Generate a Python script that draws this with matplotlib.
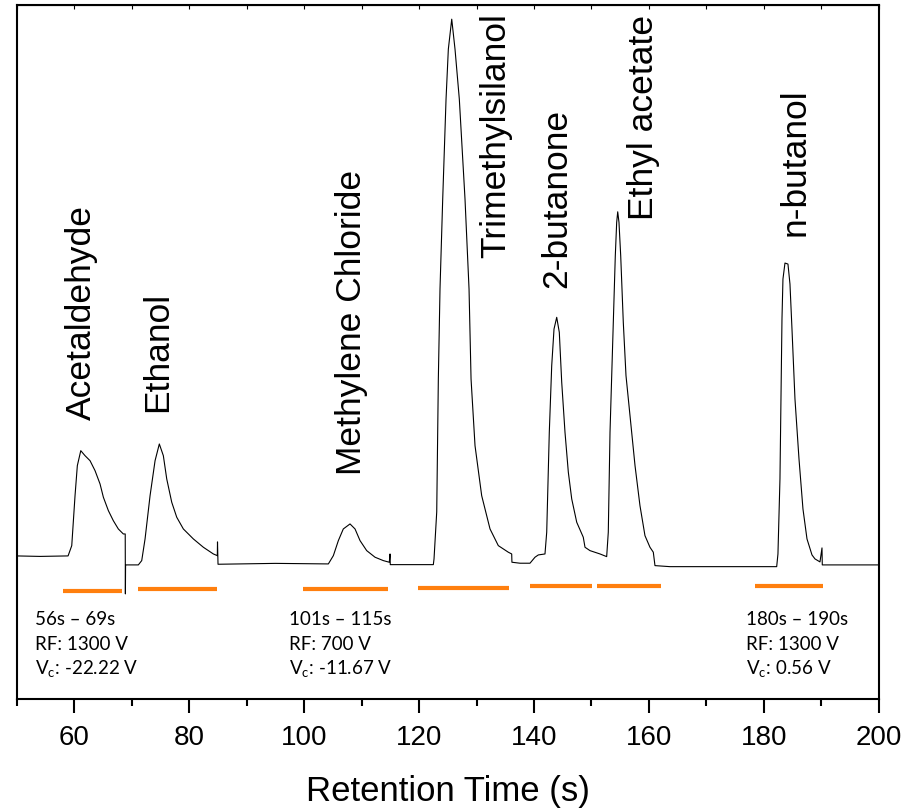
import matplotlib
matplotlib.use("Agg")
import matplotlib.pyplot as plt
from matplotlib.ticker import MultipleLocator

# chromatogram trace (time in s, relative signal)
time_s = [50.0, 54.09, 58.96, 59.6, 60.17, 60.57, 61.17, 61.91, 62.78, 63.65,
          64.52, 65.1, 65.97, 66.83, 67.7, 68.57, 68.9, 68.93, 68.96, 69.0,
          71.18, 71.77, 72.35, 73.22, 74.09, 74.83, 75.53, 76.12, 76.99, 77.86,
          79.01, 80.75, 82.49, 84.23, 84.92, 84.95, 85.04, 95.0, 104.23, 105.1,
          105.97, 106.83, 108.0, 108.87, 109.74, 110.9, 112.35, 113.79, 114.83, 114.96,
          115.0, 122.49, 122.61, 123.08, 123.36, 123.65, 124.12, 124.7, 125.1, 125.69,
          126.26, 127.01, 128.0, 128.7, 129.05, 129.74, 130.9, 132.35, 133.79, 135.53,
          136.12, 136.16, 137.57, 139.3, 140.17, 140.75, 141.91, 142.21, 142.66, 143.08,
          143.48, 143.95, 144.4, 144.82, 145.39, 145.97, 146.56, 147.43, 148.57, 148.87,
          149.74, 151.48, 152.64, 152.92, 153.22, 153.51, 153.79, 154.14, 154.38, 154.56,
          154.78, 155.08, 155.53, 156.0, 156.7, 157.57, 158.43, 159.3, 160.17, 160.75,
          161.04, 163.65, 182.21, 182.43, 182.78, 182.96, 183.13, 183.3, 183.65, 184.17,
          184.52, 184.87, 185.39, 186.09, 186.78, 187.48, 188.35, 188.87, 189.74, 190.09,
          190.14, 200.0]
signal = [1.47, 1.38, 1.47, 3.36, 12.53, 18.04, 20.79, 19.87, 18.95, 17.12,
          14.68, 12.24, 9.78, 7.94, 6.42, 5.5, 5.5, -5.5, -0.2, -0.18,
          -0.18, 0.61, 4.59, 12.53, 18.95, 22.02, 19.87, 15.6, 11.32, 8.57,
          6.42, 4.59, 3.06, 1.83, 1.52, 4.04, -0.06, 0.1, 0.0, 1.52,
          4.28, 6.42, 7.34, 6.42, 4.28, 2.44, 1.23, 0.61, 0.31, 1.83,
          -0.13, -0.13, 0.92, 9.54, 33.94, 50.46, 66.97, 85.32, 94.5, 100.0,
          94.5, 85.32, 66.97, 50.46, 33.94, 21.71, 12.53, 6.42, 3.36, 2.15,
          1.83, 0.31, 0.13, 0.13, 1.23, 1.65, 1.83, 5.82, 24.17, 36.39,
          43.12, 45.27, 42.51, 33.34, 24.17, 16.83, 11.93, 7.65, 4.9, 3.06,
          2.44, 1.83, 1.34, 5.82, 24.17, 34.56, 44.35, 56.57, 62.7, 64.64,
          62.7, 56.57, 44.35, 34.56, 27.21, 18.04, 10.7, 5.19, 3.06, 2.15,
          -0.31, -0.5, -0.5, 1.83, 15.6, 30.28, 44.95, 52.29, 55.23, 55.05,
          51.38, 43.12, 30.28, 19.27, 10.09, 4.59, 1.65, 0.92, 0.37, 2.94,
          -0.18, -0.18]

# compound labels: name, time, bottom of label
compounds = ["Acetaldehyde", "Ethanol", "Methylene Chloride", "Trimethylsilanol",
             "2-butanone", "Ethyl acetate", "n-butanol"]
label_t = [61.2, 74.6, 108.3, 133.4, 144.0, 159.0, 185.4]
label_y = [26.6, 28.1, 16.5, 56.3, 50.8, 63.3, 60.4]

# orange acquisition windows
win_start = [58.1, 71.1, 99.8, 119.8, 139.3, 151.0, 178.4]
win_end = [68.4, 84.9, 114.6, 135.7, 150.1, 162.1, 190.2]
win_y = [-5.0, -4.6, -4.6, -4.4, -4.0, -4.0, -4.0]

# condition notes
note_t = [53.2, 97.4, 176.9]
note_range = ["56s \u2013 69s", "101s \u2013 115s", "180s \u2013 190s"]
note_rf = ["RF: 1300 V", "RF: 700 V", "RF: 1300 V"]
note_vc = ["-22.22 V", "-11.67 V", "0.56 V"]

plt.rcParams["font.family"] = ["Liberation Sans", "DejaVu Sans"]

fig = plt.figure(figsize=(9.2, 8.12), dpi=100)
ax = fig.add_axes([0.018, 0.1379, 0.9374, 0.8547])

ax.plot(time_s, signal, color="black", lw=0.8)

for s, e, y in zip(win_start, win_end, win_y):
    ax.plot([s, e], [y, y], color="#ff7f0e", lw=3.0, solid_capstyle="butt")

for name, t, y in zip(compounds, label_t, label_y):
    ax.text(t, y, name, rotation=90, ha="center", va="bottom", fontsize=25.5)

for t, r, rf, vc in zip(note_t, note_range, note_rf, note_vc):
    kw = dict(family=["Lato", "DejaVu Sans"], fontsize=13.5, ha="left", va="baseline")
    ax.text(t, -11.0, r, **kw)
    ax.text(t, -15.6, rf, **kw)
    ax.text(t, -20.2, "V$_\\mathregular{c}$: " + vc, **kw)

ax.set_xlim(50, 200)
ax.set_ylim(-24.8, 102.6)
ax.xaxis.set_major_locator(MultipleLocator(20))
ax.xaxis.set_minor_locator(MultipleLocator(10))
ax.tick_params(axis="x", which="major", direction="out", length=10, width=1.5,
               labelsize=20, pad=8)
ax.tick_params(axis="x", which="minor", direction="out", length=5, width=1.5)
ax.set_yticks([])
for sp in ax.spines.values():
    sp.set_linewidth(1.5)

top = ax.secondary_xaxis("top")
top.xaxis.set_major_locator(MultipleLocator(10))
top.tick_params(direction="in", length=3, width=0.8, labeltop=False)

ax.set_xlabel("Retention Time (s)", fontsize=25, labelpad=17)

fig.savefig("out.png", dpi=100)
